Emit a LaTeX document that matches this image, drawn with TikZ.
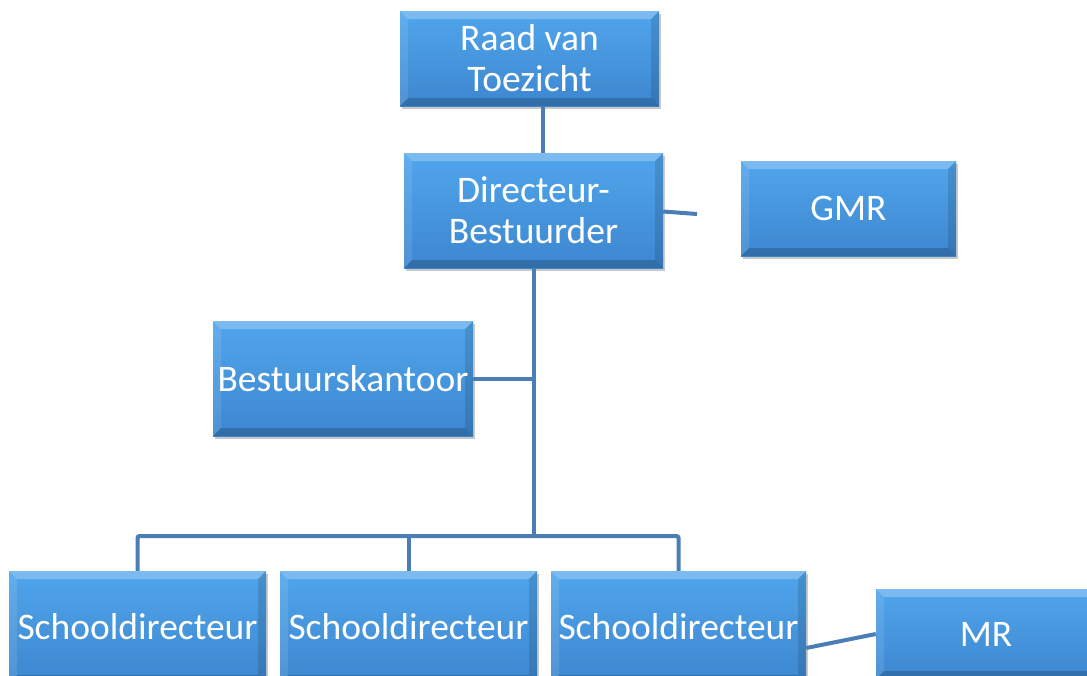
\documentclass[tikz,border=0pt]{standalone}
\usepackage{fontspec}
\setmainfont{Carlito}
\usetikzlibrary{shadows}
\definecolor{boxtop}{HTML}{50A5EC}
\definecolor{boxbot}{HTML}{3D87CF}
\definecolor{linec}{HTML}{4A7EB5}
\tikzset{
  orgbox/.style={draw=none, top color=boxtop, bottom color=boxbot, text=white,
    align=center, inner sep=0pt, font=\fontsize{37.5}{41}\selectfont,
    drop shadow={shadow xshift=2pt, shadow yshift=-3pt, opacity=.3, fill=black!70},
    path picture={
      \coordinate (pnw) at (path picture bounding box.north west);
      \coordinate (pne) at (path picture bounding box.north east);
      \coordinate (psw) at (path picture bounding box.south west);
      \coordinate (pse) at (path picture bounding box.south east);
      \fill[white,opacity=.25] (pnw) -- (pne) -- ([shift={(-8,-8)}]pne) -- ([shift={(8,-8)}]pnw) -- cycle;
      \fill[white,opacity=.10] (pnw) -- ([shift={(8,-8)}]pnw) -- ([shift={(8,8)}]psw) -- (psw) -- cycle;
      \fill[black,opacity=.12] (pne) -- ([shift={(-8,-8)}]pne) -- ([shift={(-8,8)}]pse) -- (pse) -- cycle;
      \fill[black,opacity=.18] (psw) -- ([shift={(8,8)}]psw) -- ([shift={(-8,8)}]pse) -- (pse) -- cycle;
    }},
  conn/.style={draw=linec, line width=4pt, rounded corners=2pt}
}
\begin{document}
\begin{tikzpicture}[x=1pt,y=1pt]
\useasboundingbox (0,0) rectangle (1087,-675);
\clip (0,0) rectangle (1087,-675);
\node[orgbox, minimum width=259, minimum height=95] (raad) at (529.5,-58.5) {Raad van\\Toezicht};
\node[orgbox, minimum width=259, minimum height=115] (dir) at (533.5,-210.5) {Directeur-\\Bestuurder};
\node[orgbox, minimum width=215, minimum height=95] (gmr) at (848.5,-208.5) {GMR};
\node[orgbox, minimum width=260, minimum height=115] (kantoor) at (343,-378.5) {Bestuurskantoor};
\node[orgbox, minimum width=257, minimum height=112] (s1) at (137.5,-627) {Schooldirecteur};
\node[orgbox, minimum width=257, minimum height=112] (s2) at (408.5,-627) {Schooldirecteur};
\node[orgbox, minimum width=255, minimum height=112] (s3) at (678.5,-627) {Schooldirecteur};
\node[orgbox, minimum width=220, minimum height=90] (mr) at (986,-634) {MR};
\coordinate (stub) at (697,-214);
\coordinate (bus) at (534,-536);
\draw[conn] ([xshift=13.5]raad.south) -- ([xshift=9.5]dir.north);
\draw[conn] ([yshift=-1]dir.east) -- (stub);
\draw[conn] ([xshift=0.5]dir.south) -- (bus);
\draw[conn] (kantoor.east) -- (kantoor.east -| bus);
\draw[conn] (s1.north) |- (bus) -| (s3.north);
\draw[conn] (s2.north) -- (s2.north |- bus);
\draw[conn] ([yshift=-21]s3.east) -- (mr.west);
\end{tikzpicture}
\end{document}
